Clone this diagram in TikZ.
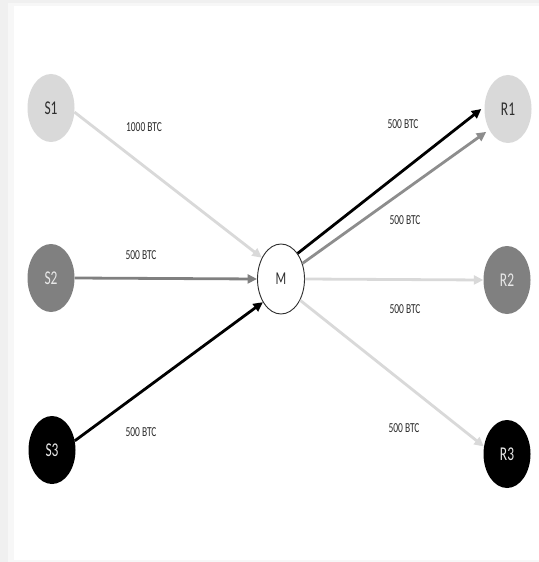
\documentclass[tikz,border=0pt]{standalone}
\usepackage{graphicx}
\usepackage{fontspec}
\setmainfont{Carlito}
\usetikzlibrary{shapes.geometric,arrows.meta}
\definecolor{lightg}{HTML}{D9D9D9}
\definecolor{midg}{HTML}{808080}
\definecolor{darktext}{HTML}{2E2E2E}
\definecolor{paletext}{HTML}{E8E8E8}
\newcommand\tallfont[1]{\scalebox{1}[1.45]{#1}}
\tikzset{
  party/.style={ellipse, minimum width=47bp, minimum height=68bp, inner sep=0pt,
    font=\fontsize{13.5}{13.5}\selectfont},
  lightparty/.style={party, fill=lightg, text=darktext},
  midparty/.style={party, fill=midg, text=paletext},
  darkparty/.style={party, fill=black, text=paletext},
  mixer/.style={ellipse, draw=darktext, line width=0.9bp, fill=white, text=darktext,
    minimum width=47bp, minimum height=70bp, inner sep=0pt, font=\fontsize{12.5}{12.5}\selectfont},
  amt/.style={font=\fontsize{9.5}{10}\selectfont, text=darktext, inner sep=0pt},
  flow/.style={line width=2.8bp, -{Triangle[length=9.5bp,width=9bp]}},
}
\begin{document}
\begin{tikzpicture}[x=1bp, y=-1bp]
  \useasboundingbox (0,0) rectangle (539,562);
  % page frame
  \fill[black!6] (0,0) rectangle (539,562);
  \fill[black!3] (8,3) rectangle (539,562);
  \fill[white] (14,6) rectangle (539,560);

  % senders, mixer, receivers
  \node[lightparty] (S1) at (51,108) {\tallfont{S1}};
  \node[midparty]   (S2) at (51,278) {\tallfont{S2}};
  \node[darkparty]  (S3) at (52,450) {\tallfont{S3}};
  \node[mixer]      (M)  at (281,279) {\tallfont{M}};
  \node[lightparty] (R1) at (508,109) {\tallfont{R1}};
  \node[midparty]   (R2) at (507,280) {\tallfont{R2}};
  \node[darkparty]  (R3) at (507,454) {\tallfont{R3}};

  % incoming flows
  \draw[flow, lightg] (S1.-10) -- (M.132);
  \draw[flow, midg]   (S2.east) -- (M.west);
  \draw[flow, black]  (S3.22) -- (M.232);

  % outgoing flows
  \draw[flow, midg!90]  (M.36) -- ([shift={(-3bp,-2bp)}]R1.228);
  \draw[flow, black]    (M.57) -- ([xshift=-3bp]R1.west);
  \draw[flow, lightg]   (M.east) -- (R2.west);
  \draw[flow, lightg]   (M.-48) -- (R3.162);

  % amounts
  \node[amt] (a1) at (144,127) {\tallfont{1000 BTC}};
  \node[amt] (a2) at (141,255) {\tallfont{500 BTC}};
  \node[amt] (a3) at (141,432) {\tallfont{500 BTC}};
  \node[amt] (b1) at (403,124) {\tallfont{500 BTC}};
  \node[amt] (b2) at (405,220) {\tallfont{500 BTC}};
  \node[amt] (b3) at (405,309) {\tallfont{500 BTC}};
  \node[amt] (b4) at (404,428) {\tallfont{500 BTC}};
\end{tikzpicture}
\end{document}
